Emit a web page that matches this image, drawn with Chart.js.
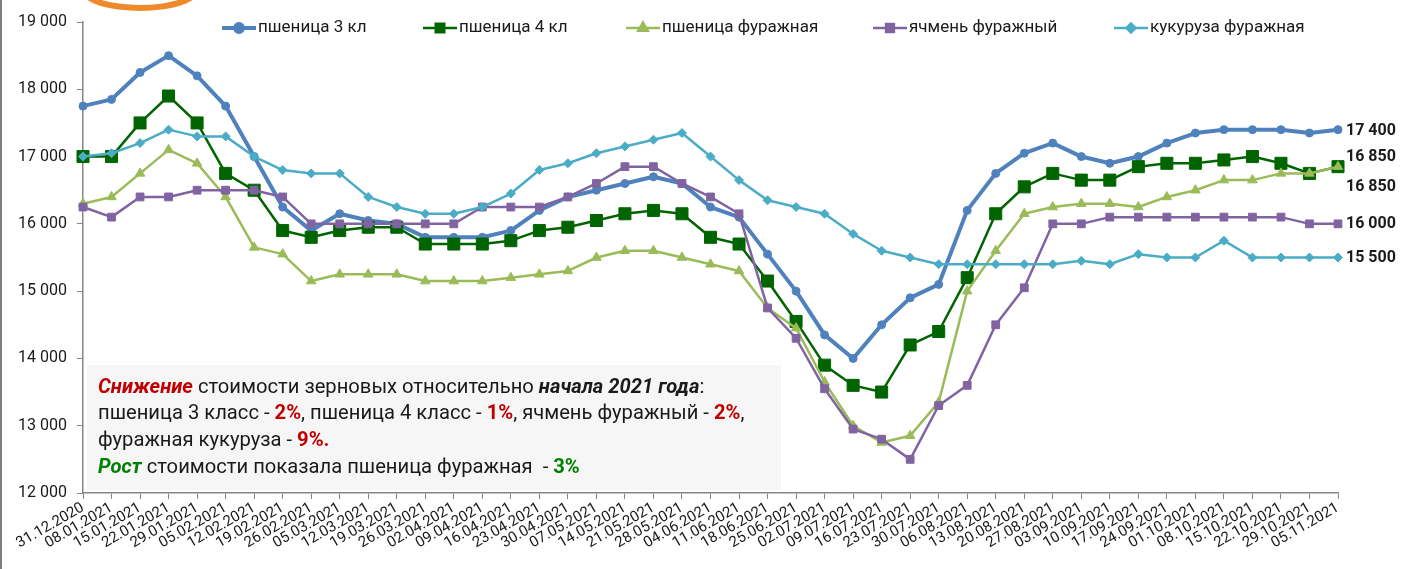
<!DOCTYPE html>
<html>
<head>
<meta charset="utf-8">
<script src="https://cdn.jsdelivr.net/npm/chart.js@4.4.1/dist/chart.umd.min.js"></script>
<style>
html,body{margin:0;padding:0;background:#fff;}
canvas{display:block;}
</style>
</head>
<body>
<canvas id="c" width="1401" height="569"></canvas>
<script>
const labels = ['31.12.2020','08.01.2021','15.01.2021','22.01.2021','29.01.2021','05.02.2021','12.02.2021','19.02.2021','26.02.2021','05.03.2021','12.03.2021','19.03.2021','26.03.2021','02.04.2021','09.04.2021','16.04.2021','23.04.2021','30.04.2021','07.05.2021','14.05.2021','21.05.2021','28.05.2021','04.06.2021','11.06.2021','18.06.2021','25.06.2021','02.07.2021','09.07.2021','16.07.2021','23.07.2021','30.07.2021','06.08.2021','13.08.2021','20.08.2021','27.08.2021','03.09.2021','10.09.2021','17.09.2021','24.09.2021','01.10.2021','08.10.2021','15.10.2021','22.10.2021','29.10.2021','05.11.2021'];

const wheat3 = [17750,17850,18250,18500,18200,17750,17000,16250,15900,16150,16050,16000,15800,15800,15800,15900,16200,16400,16500,16600,16700,16600,16250,16100,15550,15000,14350,14000,14500,14900,15100,16200,16750,17050,17200,17000,16900,17000,17200,17350,17400,17400,17400,17350,17400];
const wheat4 = [17000,17000,17500,17900,17500,16750,16500,15900,15800,15900,15950,15950,15700,15700,15700,15750,15900,15950,16050,16150,16200,16150,15800,15700,15150,14550,13900,13600,13500,14200,14400,15200,16150,16550,16750,16650,16650,16850,16900,16900,16950,17000,16900,16750,16850];
const feedWheat = [16300,16400,16750,17100,16900,16400,15650,15550,15150,15250,15250,15250,15150,15150,15150,15200,15250,15300,15500,15600,15600,15500,15400,15300,14750,14450,13650,13000,12750,12850,13350,15000,15600,16150,16250,16300,16300,16250,16400,16500,16650,16650,16750,16750,16850];
const feedBarley = [16250,16100,16400,16400,16500,16500,16500,16400,16000,16000,16000,16000,16000,16000,16250,16250,16250,16400,16600,16850,16850,16600,16400,16150,14750,14300,13550,12950,12800,12500,13300,13600,14500,15050,16000,16000,16100,16100,16100,16100,16100,16100,16100,16000,16000];
const feedCorn = [17000,17050,17200,17400,17300,17300,17000,16800,16750,16750,16400,16250,16150,16150,16250,16450,16800,16900,17050,17150,17250,17350,17000,16650,16350,16250,16150,15850,15600,15500,15400,15400,15400,15400,15400,15450,15400,15550,15500,15500,15750,15500,15500,15500,15500];

const seriesNames = ['пшеница 3 кл','пшеница 4 кл','пшеница фуражная','ячмень фуражный','кукуруза фуражная'];
const yTicks = [12000,13000,14000,15000,16000,17000,18000,19000];

const FONT = 'Roboto, "Noto Sans", sans-serif';
const fmt = v => String(v).replace(/\B(?=(\d{3})+(?!\d))/g, ' ');

const styles = [
  {color:'#4F81BD', width:4,   point:'circle',  radius:4},
  {color:'#006400', width:2.5, point:'rect',    radius:8.5},
  {color:'#9BBB59', width:2.5, point:'triangle',radius:5.5},
  {color:'#8064A2', width:2.5, point:'rect',    radius:5.5},
  {color:'#4BACC6', width:2.5, point:'rectRot', radius:4.5}
];
const seriesData = [wheat3, wheat4, feedWheat, feedBarley, feedCorn];

const datasets = seriesData.map((d,i)=>({
  label: seriesNames[i],
  data: d,
  borderColor: styles[i].color,
  backgroundColor: styles[i].color,
  borderWidth: styles[i].width,
  pointStyle: styles[i].point,
  pointRadius: styles[i].radius,
  pointBorderWidth: 1,
  pointBackgroundColor: styles[i].color,
  pointBorderColor: styles[i].color,
  tension: 0,
  order: 4 - i
}));

// end-of-line label vertical nudges (px), to avoid overlaps
const endLabelDy = [1, -10, 20, 0, 0];
const legendX = [222, 423, 626, 873, 1114];

const decor = {
  id:'decor',
  beforeDatasetsDraw(chart){
    const ctx = chart.ctx;
    ctx.save();
    // text box
    ctx.fillStyle = '#F6F6F6';
    ctx.fillRect(87, 365, 694, 125);
    const red = '#C00000', green = '#008000', black = '#1a1a1a';
    const lines = [
      [{t:'Снижение', f:'italic bold', c:red},{t:' стоимости зерновых относительно ', f:'', c:black},{t:'начала 2021 года', f:'italic bold', c:black},{t:':', f:'', c:black}],
      [{t:'пшеница 3 класс - ', f:'', c:black},{t:'2%', f:'bold', c:red},{t:', пшеница 4 класс - ', f:'', c:black},{t:'1%', f:'bold', c:red},{t:', ячмень фуражный - ', f:'', c:black},{t:'2%', f:'bold', c:red},{t:',', f:'', c:black}],
      [{t:'фуражная кукуруза - ', f:'', c:black},{t:'9%.', f:'bold', c:red}],
      [{t:'Рост', f:'italic bold', c:green},{t:' стоимости показала пшеница фуражная  - ', f:'', c:black},{t:'3%', f:'bold', c:green}]
    ];
    const measure = (line, size) => line.reduce((w,s)=>{ctx.font = `${s.f} ${size}px ${FONT}`; return w + ctx.measureText(s.t).width;},0);
    let size = 16;
    const w2 = measure(lines[1], size);
    size = size * 647 / w2;
    const ys = [388, 414, 441, 468];
    ctx.textBaseline = 'middle';
    ctx.textAlign = 'left';
    lines.forEach((line, li)=>{
      let x = 98;
      line.forEach(s=>{
        ctx.font = `${s.f} ${size}px ${FONT}`;
        ctx.fillStyle = s.c;
        ctx.fillText(s.t, x, ys[li]);
        x += ctx.measureText(s.t).width;
      });
    });
    ctx.restore();
  },
  afterDraw(chart){
    const ctx = chart.ctx;
    const y = chart.scales.y;
    ctx.save();
    // legend
    ctx.textBaseline = 'middle';
    ctx.textAlign = 'left';
    ctx.font = `17px ${FONT}`;
    datasets.forEach((ds,i)=>{
      const x0 = legendX[i], yy = 28;
      ctx.strokeStyle = ds.borderColor;
      ctx.lineWidth = ds.borderWidth;
      ctx.beginPath(); ctx.moveTo(x0, yy); ctx.lineTo(x0+34, yy); ctx.stroke();
      ctx.fillStyle = ds.borderColor;
      Chart.helpers.drawPoint(ctx, {pointStyle: ds.pointStyle, radius: Math.min(ds.pointRadius, 6), borderWidth:1, rotation:0}, x0+17, yy);
      ctx.fill();
      ctx.fillStyle = '#1a1a1a';
      ctx.fillText(ds.label, x0+36, yy);
    });
    // end labels
    ctx.font = `bold 16px ${FONT}`;
    datasets.forEach((ds,i)=>{
      const v = ds.data[ds.data.length-1];
      ctx.fillStyle = '#1a1a1a';
      ctx.fillText(fmt(v), chart.chartArea.right + 8, y.getPixelForValue(v) + endLabelDy[i]);
    });
    // logo fragment
    ctx.strokeStyle = '#EE8A2C';
    ctx.lineWidth = 6;
    ctx.beginPath();
    ctx.ellipse(140, -12, 58, 20, 0, 0.12*Math.PI, 0.9*Math.PI);
    ctx.stroke();
    // left border
    ctx.fillStyle = '#7f7f7f';
    ctx.fillRect(0, 0, 2, 569);
    ctx.restore();
  }
};

new Chart(document.getElementById('c'), {
  type:'line',
  data:{labels, datasets},
  options:{
    responsive:false,
    animation:false,
    layout:{padding:{top:22, right:63, left:0, bottom:0}},
    plugins:{legend:{display:false}, tooltip:{enabled:false}},
    elements:{line:{borderCapStyle:'round', borderJoinStyle:'round'}},
    scales:{
      x:{
        offset:false,
        grid:{drawOnChartArea:false, drawTicks:true, tickLength:6, color:'#868686'},
        border:{display:true, color:'#868686', width:1.5},
        ticks:{autoSkip:false, minRotation:30, maxRotation:30, padding:0, color:'#1a1a1a', font:{family:FONT, size:15}},
        afterFit(s){ s.height = 76; s.paddingLeft = 0; s.paddingRight = 0; }
      },
      y:{
        min:12000, max:19000,
        afterBuildTicks(s){ s.ticks = yTicks.map(v=>({value:v})); },
        grid:{drawOnChartArea:false, drawTicks:true, tickLength:6, color:'#868686'},
        border:{display:true, color:'#868686', width:1.5},
        ticks:{padding:10, color:'#1a1a1a', font:{family:FONT, size:16}, callback:v=>fmt(v)},
        afterFit(s){ s.width = 83; }
      }
    }
  },
  plugins:[decor]
});
</script>
</body>
</html>
